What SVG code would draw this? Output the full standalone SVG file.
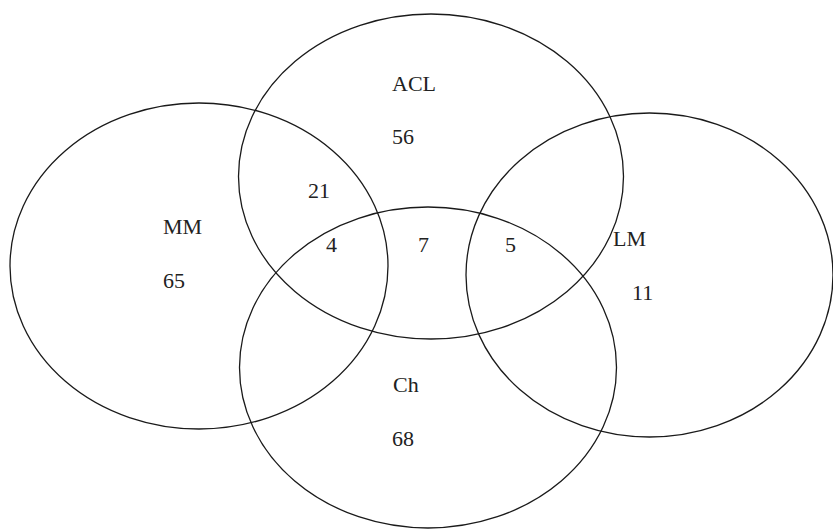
<svg xmlns="http://www.w3.org/2000/svg" width="833" height="529" viewBox="0 0 833 529">
<style>
.set{fill:none;stroke:#1a1a1a;stroke-width:1.3}
text{font-family:"Liberation Serif","Times New Roman",serif;font-size:22px;fill:#222}
</style>
<rect width="833" height="529" fill="#fff"/>
<g id="MM"><ellipse class="set" cx="199" cy="266" rx="189" ry="163"/><text x="163" y="234">MM</text><text x="163" y="288">65</text></g>
<g id="ACL"><ellipse class="set" cx="431" cy="176.5" rx="192.5" ry="162.5"/><text x="392" y="91">ACL</text><text x="392" y="144">56</text></g>
<g id="LM"><ellipse class="set" cx="649.5" cy="275" rx="183.5" ry="162"/><text x="613" y="246">LM</text><text x="632" y="300">11</text></g>
<g id="Ch"><ellipse class="set" cx="428" cy="367.5" rx="188.5" ry="160.5"/><text x="393" y="392">Ch</text><text x="392" y="446">68</text></g>
<g id="overlaps"><text x="308" y="198">21</text><text x="326" y="252">4</text><text x="418" y="252">7</text><text x="505" y="252">5</text></g>
</svg>
